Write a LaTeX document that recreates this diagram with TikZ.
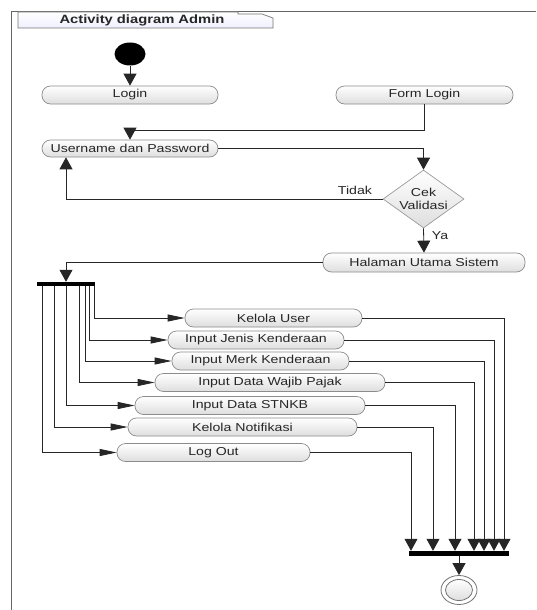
\documentclass[tikz,border=0pt]{standalone}
\usepackage{fontspec}
\setmainfont{Liberation Sans}[FakeStretch=1.23]
\usetikzlibrary{shapes.geometric,arrows.meta,calc}
\begin{document}
\begin{tikzpicture}[x=1pt,y=-1pt,
  txt/.style={font=\fontsize{11.5}{13}\selectfont, text=black!85},
  act/.style={txt, draw=black!45, line width=0.7pt, rounded corners=8.5pt,
    top color=white, bottom color=black!13, minimum height=18pt, inner sep=0pt},
  dia/.style={txt, diamond, aspect=1.4, draw=black!40, line width=0.7pt,
    top color=white, bottom color=black!13, inner sep=0pt, align=center,
    minimum width=81pt, minimum height=58pt},
  bar/.style={fill=black, inner sep=0pt, minimum height=4pt},
  ln/.style={draw=black!85, line width=0.8pt},
  varr/.style={ln, -{Triangle[length=12pt,width=13pt]}},
  harr/.style={ln, -{Triangle[length=17pt,width=7pt]}},
  framestyle/.style={draw=black!60, line width=1pt}
]
\useasboundingbox (0,0) rectangle (536,610);
% frame
\draw[framestyle] (11,610) -- (11,12) -- (536,12);
\draw[draw=black!55, line width=0.7pt, top color=white, bottom color=blue!6]
  (18,12) -- (18,28) -- (273,28) -- (273,18) -- (262,14) -- (238,14) -- (238,12) -- cycle;
\node[font=\fontsize{12}{14}\selectfont\bfseries, text=black!85, inner sep=0pt] (title) at (142,20) {Activity diagram Admin};

% nodes
\node[ellipse, fill=black, minimum width=31pt, minimum height=23pt, inner sep=0pt] (start) at (130,54) {};
\node[act, minimum width=176pt] (login) at (130,95) {Login};
\node[act, minimum width=177pt] (form) at (424.5,95) {Form Login};
\node[act, minimum width=176pt, minimum height=17pt] (user) at (130,148.5) {Username dan Password};
\node[dia] (cek) at (423.5,199) {Cek\\Validasi};
\node[act, minimum width=202pt, minimum height=19pt] (hal) at (424,262.5) {Halaman Utama Sistem};
\node[bar, minimum width=58pt] (fork) at (66,284) {};
\node[act, minimum width=177pt] (kel) at (273.5,318) {Kelola User};
\node[act, minimum width=176pt] (jen) at (256,340) {Input Jenis Kenderaan};
\node[act, minimum width=177pt] (mer) at (260.5,361) {Input Merk Kenderaan};
\node[act, minimum width=230pt] (waj) at (270,382.5) {Input Data Wajib Pajak};
\node[act, minimum width=230pt] (stn) at (250,405.5) {Input Data STNKB};
\node[act, minimum width=229pt] (notif) at (242.5,427) {Kelola Notifikasi};
\node[act, minimum width=193pt] (out) at (213.5,452.5) {Log Out};
\node[bar, minimum width=100pt, minimum height=5pt] (join) at (459,553.5) {};
\node[ellipse, draw=black!55, line width=0.8pt, fill=white, minimum width=36pt, minimum height=29pt, inner sep=0pt] (fin) at (459,590) {};
\node[ellipse, draw=black!55, line width=0.8pt, top color=white, bottom color=black!13, minimum width=27pt, minimum height=21pt, inner sep=0pt] (fininner) at (fin.center) {};

% connectors
\draw[varr] (start) -- (login);
\draw[varr] (form.south) -- ++(0,26) -| (user.north);
\draw[varr] (user.east) -| (cek.north);
\draw[varr] (cek.west) -| ([xshift=-64pt]user.south);
\node[txt, inner sep=0pt] (tidak) at (355,190) {Tidak};
\draw[varr] (cek.south) -- (hal.north);
\node[txt, inner sep=0pt] (ya) at (440,235.5) {Ya};
\draw[varr] (hal.west) -| (fork.north);

\draw[harr] ([xshift=28pt]fork.south) |- (kel.west);
\draw[harr] ([xshift=23pt]fork.south) |- (jen.west);
\draw[harr] ([xshift=19pt]fork.south) |- (mer.west);
\draw[harr] ([xshift=13pt]fork.south) |- (waj.west);
\draw[harr] (fork.south) |- (stn.west);
\draw[harr] ([xshift=-12pt]fork.south) |- (notif.west);
\draw[harr] ([xshift=-24pt]fork.south) |- (out.west);

\draw[varr] (kel.east) -| ([xshift=45pt]join.north);
\draw[varr] (jen.east) -| ([xshift=35pt]join.north);
\draw[varr] (mer.east) -| ([xshift=25pt]join.north);
\draw[varr] (waj.east) -| ([xshift=15pt]join.north);
\draw[varr] (stn.east) -| ([xshift=-4pt]join.north);
\draw[varr] (notif.east) -| ([xshift=-26pt]join.north);
\draw[varr] (out.east) -| ([xshift=-48pt]join.north);
\draw[varr] (join.south) -- (fin.north);
\end{tikzpicture}
\end{document}
